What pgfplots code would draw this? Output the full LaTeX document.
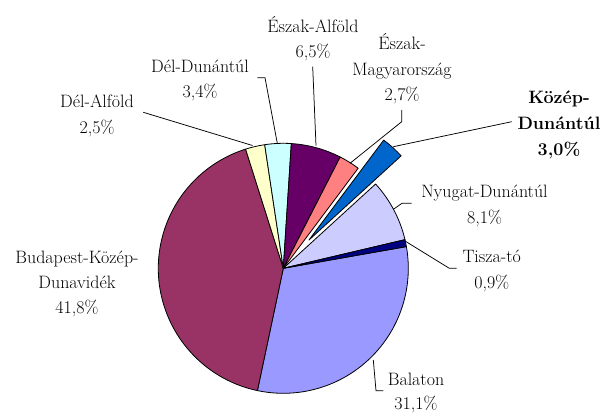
\documentclass[border=0pt]{standalone}
\usepackage{pgfplots}
\usepackage{pgfplotstable}
\pgfplotsset{compat=1.18}
\definecolor{c0}{HTML}{9999FF}
\definecolor{c1}{HTML}{993366}
\definecolor{c2}{HTML}{FFFFCC}
\definecolor{c3}{HTML}{CCFFFF}
\definecolor{c4}{HTML}{660066}
\definecolor{c5}{HTML}{FF8080}
\definecolor{c6}{HTML}{0066CC}
\definecolor{c7}{HTML}{CCCCFF}
\definecolor{c8}{HTML}{000080}

% Balaton, Budapest-Kozep-Dunavidek, Del-Alfold, Del-Dunantul, Eszak-Alfold,
% Eszak-Magyarorszag, Kozep-Dunantul, Nyugat-Dunantul, Tisza-to
\pgfplotstableread{
pct explode
31.1 0
41.8 0
2.5 0
3.4 0
6.5 0
2.7 0
3.0 38
8.1 0
0.9 0
}\piedata

\begin{document}
\begin{tikzpicture}
\useasboundingbox (0,0) rectangle (603bp,414bp);
\def\cum{10}
\pgfplotsforeachungrouped \i in {0,...,8}{%
  \pgfplotstablegetelem{\i}{pct}\of\piedata
  \pgfmathsetmacro\pspan{3.6*\pgfplotsretval}%
  \pgfplotstablegetelem{\i}{explode}\of\piedata
  \let\expl\pgfplotsretval
  \pgfmathsetmacro\endang{\cum-\pspan}%
  \pgfmathsetmacro\midang{\cum-\pspan/2}%
  \expandafter\xdef\csname pieS\i\endcsname{\cum}%
  \expandafter\xdef\csname pieE\i\endcsname{\endang}%
  \expandafter\xdef\csname pieM\i\endcsname{\midang}%
  \expandafter\xdef\csname pieX\i\endcsname{\expl}%
  \xdef\cum{\endang}%
}
\tikzset{lab/.style={anchor=base, inner sep=0pt, font=\fontsize{18}{22}\selectfont},
         lead/.style={draw=black, line width=0.75bp}}
\begin{axis}[at={(0,0)}, anchor=south west, scale only axis,
  width=603bp, height=414bp, xmin=0, xmax=603, ymin=0, ymax=414,
  y dir=reverse, hide axis, clip=false]
\pgfplotsinvokeforeach{0,...,8}{%
  \edef\temp{\noexpand\filldraw[fill=c#1, draw=black, line width=0.8bp, line join=round]
    ([shift={(\csname pieM#1\endcsname:\csname pieX#1\endcsname bp)}]axis cs:283.3,268.3)
    -- ++(\csname pieS#1\endcsname:125bp)
    arc[start angle=\csname pieS#1\endcsname, end angle=\csname pieE#1\endcsname, radius=125bp]
    -- cycle;}\temp
}
% leader lines
\draw[lead] (axis cs:143.3,112.3) -- (axis cs:252.5,145.5);
\draw[lead] (axis cs:257.3,77.7) -- (axis cs:265,77.7) -- (axis cs:277.3,143.3);
\draw[lead] (axis cs:312.7,66.7) -- (axis cs:316,145.7);
\draw[lead] (axis cs:401.7,110) -- (axis cs:401.7,121.7) -- (axis cs:350,163.3);
\draw[lead] (axis cs:511.7,121.7) -- (axis cs:393.3,146.7);
\draw[lead] (axis cs:411.7,203.3) -- (axis cs:402,203.3) -- (axis cs:393.3,209.3);
\draw[lead] (axis cs:405,241) -- (axis cs:449.3,268.3) -- (axis cs:456.7,268.3);
\draw[lead] (axis cs:373.3,360) -- (axis cs:376,390.7) -- (axis cs:383.3,390.7);
% labels
\node[lab] at (axis cs:77,263.3) {Budapest-Közép-};
\node[lab] at (axis cs:77,288.3) {Dunavidék};
\node[lab] at (axis cs:77,313.3) {41,8\%};
\node[lab] at (axis cs:97,107.3) {Dél-Alföld};
\node[lab] at (axis cs:97,133) {2,5\%};
\node[lab] at (axis cs:200,72) {Dél-Dunántúl};
\node[lab] at (axis cs:200,97.5) {3,4\%};
\node[lab] at (axis cs:313,32.3) {Észak-Alföld};
\node[lab] at (axis cs:313,57.5) {6,5\%};
\node[lab] at (axis cs:402,49.3) {Észak-};
\node[lab] at (axis cs:402,75) {Magyarország};
\node[lab] at (axis cs:402,100.7) {2,7\%};
\node[lab, font=\fontsize{18}{22}\selectfont\bfseries] at (axis cs:559,103.3) {Közép-};
\node[lab, font=\fontsize{18}{22}\selectfont\bfseries] at (axis cs:559,129.3) {Dunántúl};
\node[lab, font=\fontsize{18}{22}\selectfont\bfseries] at (axis cs:559,155) {3,0\%};
\node[lab] at (axis cs:484.5,197.3) {Nyugat-Dunántúl};
\node[lab] at (axis cs:484.5,223.3) {8,1\%};
\node[lab] at (axis cs:491.7,262.7) {Tisza-tó};
\node[lab] at (axis cs:491.7,288.3) {0,9\%};
\node[lab] at (axis cs:416,385) {Balaton};
\node[lab] at (axis cs:416,409.5) {31,1\%};
\end{axis}
\end{tikzpicture}
\end{document}
